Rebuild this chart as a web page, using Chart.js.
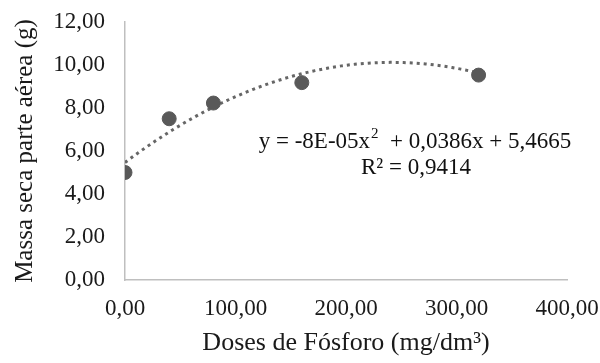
<!DOCTYPE html>
<html>
<head>
<meta charset="utf-8">
<script src="https://cdn.jsdelivr.net/npm/chart.js@4/dist/chart.umd.min.js"></script>
<style>
  html, body { margin: 0; padding: 0; background: #fff; }
  #wrap { width: 600px; height: 363px; position: relative; }
</style>
</head>
<body>
<div id="wrap"><canvas id="fosforoChart"></canvas></div>
<script>
// Doses de fósforo (mg/dm³) e massa seca da parte aérea (g)
const doses = [0, 40, 80, 160, 320];
const massaSeca = [5.0, 7.5, 8.23, 9.18, 9.53];

// Ajuste polinomial de 2ª ordem: a, b, c
const coefTendencia = [-8e-5, 0.0386, 5.4665];
const r2 = 0.9414;

const yTicks = [0, 2, 4, 6, 8, 10, 12];
const xTicks = [0, 100, 200, 300, 400];

const fmt = v => v.toFixed(2).replace('.', ',');
const fonte = 'Liberation Serif';

// curva de tendência a partir dos coeficientes
const curva = [];
for (let x = 0; x <= doses[doses.length - 1]; x += 4) {
    const [a, b, c] = coefTendencia;
    curva.push({ x: x, y: a * x * x + b * x + c });
}

const equacaoPlugin = {
    id: 'equacao',
    afterDatasetsDraw(chart) {
        const ctx = chart.ctx;
        const [a, b, c] = coefTendencia;
        const p1 = 'y = ' + a.toExponential(0).replace('e-', 'E-0') + 'x';
        const p2 = '  + ' + b.toFixed(4).replace('.', ',') + 'x + ' + c.toFixed(4).replace('.', ',');
        const grande = '23px "' + fonte + '"';
        const pequeno = '15px "' + fonte + '"';
        ctx.save();
        ctx.fillStyle = '#111';
        ctx.textBaseline = 'middle';
        ctx.font = grande;
        const w1 = ctx.measureText(p1).width;
        const w3 = ctx.measureText(p2).width;
        ctx.font = pequeno;
        const w2 = ctx.measureText('2').width + 1;
        const total = w1 + w2 + w3;
        const cx = 415, y1 = 142, y2 = 168;
        let x = cx - total / 2;
        ctx.textAlign = 'left';
        ctx.font = grande;
        ctx.fillText(p1, x, y1);
        x += w1;
        ctx.font = pequeno;
        ctx.fillText('2', x + 1, y1 - 8);
        x += w2;
        ctx.font = grande;
        ctx.fillText(p2, x, y1);
        ctx.textAlign = 'center';
        ctx.fillText('R² = ' + r2.toFixed(4).replace('.', ','), 416, y2);
        ctx.restore();
    }
};

new Chart(document.getElementById('fosforoChart').getContext('2d'), {
    type: 'scatter',
    data: {
        datasets: [
            {
                label: 'Observado',
                data: doses.map((d, i) => ({ x: d, y: massaSeca[i] })),
                backgroundColor: '#595959',
                borderColor: '#595959',
                pointRadius: 7,
                pointHoverRadius: 7,
                order: 0
            },
            {
                label: 'Polinomial',
                data: curva,
                showLine: true,
                pointRadius: 0,
                borderColor: '#666',
                borderWidth: 3,
                borderDash: [3, 4],
                tension: 0,
                order: 1
            }
        ]
    },
    options: {
        responsive: true,
        maintainAspectRatio: false,
        animation: false,
        layout: { padding: { top: 22, right: 33, left: 0, bottom: 0 } },
        plugins: {
            legend: { display: false },
            tooltip: { enabled: false }
        },
        scales: {
            x: {
                type: 'linear',
                min: 0,
                max: 400,
                afterBuildTicks: s => { s.ticks = xTicks.map(v => ({ value: v })); },
                afterFit: s => {
                    s.height = 83;
                    s.paddingLeft = 0;
                    s.paddingRight = 0;
                },
                grid: { display: false, drawTicks: false },
                border: { color: '#bfbfbf', width: 1.5 },
                ticks: {
                    padding: 15,
                    color: '#1a1a1a',
                    font: { family: fonte, size: 23 },
                    callback: v => fmt(v)
                },
                title: {
                    display: true,
                    text: 'Doses de Fósforo (mg/dm³)',
                    color: '#1a1a1a',
                    font: { family: fonte, size: 26 },
                    padding: { top: 0, bottom: 4 }
                }
            },
            y: {
                min: 0,
                max: 12,
                afterBuildTicks: s => { s.ticks = yTicks.map(v => ({ value: v })); },
                afterFit: s => {
                    s.width = 125;
                    s.paddingTop = 0;
                    s.paddingBottom = 0;
                },
                grid: { display: false, drawTicks: false },
                border: { color: '#bfbfbf', width: 1.5 },
                ticks: {
                    padding: 20,
                    color: '#1a1a1a',
                    font: { family: fonte, size: 23 },
                    callback: v => fmt(v)
                },
                title: {
                    display: true,
                    text: 'Massa seca parte aérea (g)',
                    color: '#1a1a1a',
                    font: { family: fonte, size: 25 },
                    padding: { top: 10, bottom: 0 }
                }
            }
        }
    },
    plugins: [equacaoPlugin]
});
</script>
</body>
</html>
